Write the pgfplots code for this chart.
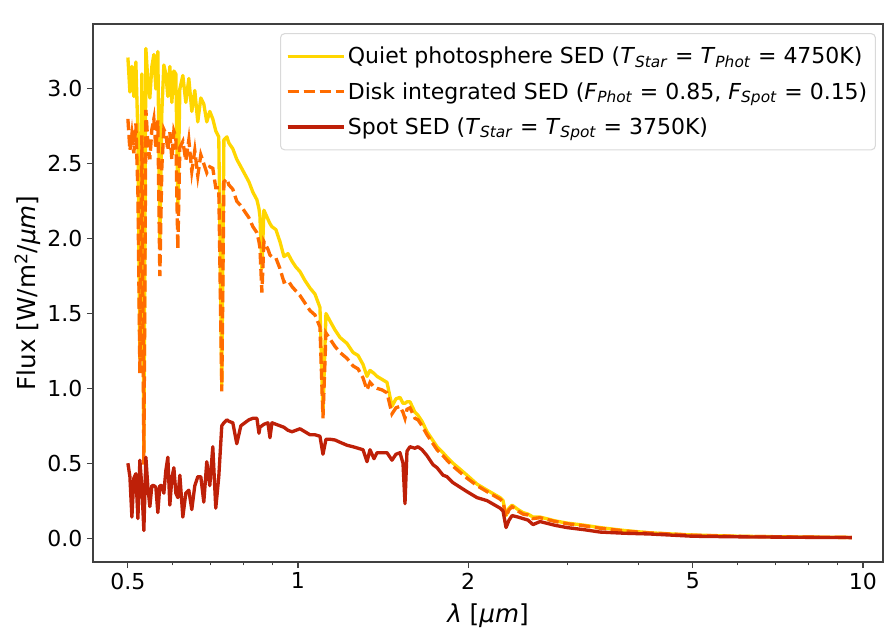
\documentclass[border=0pt]{standalone}
\usepackage{pgfplots}
\pgfplotsset{compat=1.18}
\usepackage{pgfplotstable}
\usepackage{fontspec}
\setmainfont{DejaVu Sans}
\definecolor{cquiet}{RGB}{255,214,0}
\definecolor{cdisk}{RGB}{255,108,0}
\definecolor{cspot}{RGB}{190,32,8}

\pgfplotstableread{
lam Y D S
0.5000 3.21 2.80 0.50
0.5041 2.98 2.59 0.41
0.5082 3.15 2.70 0.14
0.5123 2.95 2.57 0.40
0.5165 3.18 2.77 0.43
0.5208 2.70 2.31 0.13
0.5250 1.20 1.10 0.52
0.5293 3.10 2.69 0.34
0.5336 0.57 0.49 0.05
0.5380 3.27 2.86 0.54
0.5424 3.05 2.64 0.34
0.5468 2.94 2.53 0.21
0.5513 3.15 2.73 0.35
0.5558 3.23 2.80 0.35
0.5603 3.00 2.60 0.34
0.5649 3.25 2.79 0.17
0.5695 2.00 1.75 0.35
0.5742 2.85 2.48 0.35
0.5789 3.16 2.73 0.30
0.5836 3.10 2.70 0.45
0.5884 2.95 2.59 0.54
0.5932 3.15 2.71 0.22
0.5981 2.91 2.53 0.40
0.6030 3.12 2.72 0.47
0.6079 3.10 2.68 0.30
0.6129 2.22 1.93 0.27
0.6179 3.00 2.61 0.42
0.6255 3.09 2.65 0.14
0.6331 2.91 2.52 0.30
0.6409 3.07 2.66 0.32
0.6488 2.85 2.45 0.19
0.6567 2.99 2.59 0.35
0.6648 2.78 2.42 0.41
0.6730 2.94 2.56 0.41
0.6813 2.90 2.50 0.24
0.6896 2.78 2.44 0.51
0.6981 2.85 2.48 0.35
0.7067 2.80 2.47 0.61
0.7154 2.72 2.34 0.20
0.7242 2.68 2.34 0.41
0.7331 1.02 0.98 0.75
0.7394 2.66 2.38 0.77
0.7485 2.68 2.40 0.79
0.7544 2.64 2.36 0.78
0.7668 2.60 2.33 0.77
0.7794 2.53 2.25 0.63
0.7924 2.48 2.22 0.75
0.8054 2.43 2.18 0.77
0.8187 2.38 2.14 0.79
0.8322 2.31 2.08 0.80
0.8459 2.26 2.04 0.80
0.8530 2.20 1.98 0.70
0.8563 2.15 1.94 0.74
0.8633 1.80 1.64 0.75
0.8704 2.19 1.98 0.76
0.8848 2.13 1.93 0.77
0.8921 2.10 1.89 0.67
0.8993 2.08 1.88 0.77
0.9141 2.06 1.87 0.76
0.9292 1.98 1.80 0.75
0.9444 1.88 1.71 0.74
0.9600 1.90 1.72 0.72
0.9758 1.85 1.68 0.71
0.9918 1.81 1.65 0.72
1.0082 1.78 1.62 0.73
1.0289 1.72 1.57 0.71
1.0501 1.67 1.52 0.69
1.0717 1.63 1.49 0.69
1.0937 1.54 1.41 0.68
1.1072 0.84 0.80 0.56
1.1208 1.50 1.37 0.66
1.1393 1.45 1.33 0.66
1.1628 1.39 1.28 0.655
1.1867 1.34 1.24 0.64
1.2212 1.30 1.20 0.62
1.2514 1.24 1.15 0.61
1.2772 1.22 1.13 0.60
1.3034 1.16 1.07 0.59
1.3249 1.08 0.99 0.51
1.3412 1.12 1.04 0.59
1.3632 1.10 1.01 0.53
1.3800 1.08 1.00 0.57
1.4083 1.06 0.99 0.57
1.4373 1.04 0.97 0.57
1.4668 0.88 0.83 0.52
1.4910 0.93 0.87 0.56
1.5155 0.94 0.88 0.57
1.5341 0.90 0.84 0.50
1.5467 0.90 0.80 0.23
1.5593 0.91 0.86 0.58
1.5785 0.91 0.87 0.61
1.6110 0.84 0.80 0.60
1.6308 0.82 0.79 0.61
1.6579 0.78 0.75 0.59
1.6920 0.71 0.69 0.55
1.7339 0.65 0.63 0.49
1.7624 0.61 0.59 0.47
1.8060 0.57 0.55 0.42
1.8357 0.54 0.52 0.41
1.8810 0.50 0.48 0.37
1.9355 0.46 0.44 0.34
1.9916 0.42 0.40 0.31
2.0745 0.36 0.35 0.27
2.1608 0.32 0.31 0.25
2.2785 0.27 0.26 0.20
2.3065 0.25 0.24 0.18
2.3348 0.15 0.14 0.07
2.3635 0.20 0.19 0.12
2.3926 0.22 0.21 0.15
2.4519 0.19 0.18 0.14
2.5019 0.17 0.16 0.13
2.5535 0.16 0.154 0.12
2.6060 0.14 0.13 0.09
2.6815 0.14 0.136 0.11
2.8500 0.115 0.111 0.085
2.9930 0.10 0.096 0.07
3.2210 0.085 0.081 0.055
3.4230 0.07 0.066 0.04
3.7910 0.05 0.047 0.032
4.1980 0.035 0.034 0.027
5.0030 0.02 0.019 0.012
6.0570 0.012 0.011 0.008
7.7390 0.007 0.007 0.005
9.5610 0.004 0.004 0.003
}\sed

\begin{document}
\begin{tikzpicture}
\begin{axis}[
  scale only axis,
  width=592.5pt, height=403.5pt,
  xmode=log,
  xmin=0.4337, xmax=10.85,
  ymin=-0.16, ymax=3.434,
  xtick={0.5,1,2,5,10},
  xticklabels={0.5,1,2,5,10},
  minor xtick={0.6,0.7,0.8,0.9,3,4,6,7,8,9},
  ytick={0,0.5,1,1.5,2,2.5,3},
  yticklabels={0.0,0.5,1.0,1.5,2.0,2.5,3.0},
  xtick pos=bottom, ytick pos=left,
  tick align=outside,
  major tick length=4.5pt, minor tick length=2.6pt,
  every tick/.style={black!75, line width=0.8pt},
  axis line style={black!75, line width=0.9pt},
  tick label style={font=\fontsize{16.5}{19}\selectfont},
  /pgf/number format/assume math mode=true,
  xlabel={\textit{λ} [\textit{μm}]},
  ylabel={Flux [W/m\textsuperscript{2}/\textit{μm}]},
  label style={font=\fontsize{18.5}{22}\selectfont},
  xlabel style={at={(axis description cs:0.5,0)}, anchor=north, yshift=-28pt},
  ylabel style={yshift=-2pt},
  legend cell align=left,
  legend style={at={(0.991,0.983)}, anchor=north east,
    draw=black!15, rounded corners=3pt, line width=0.8pt,
    font=\fontsize{16.5}{19}\selectfont,
    row sep=8.5pt, inner xsep=4pt, inner ysep=8pt},
  legend image code/.code={\draw[#1] (0pt,0pt) -- (35pt,0pt); \path (0pt,0pt) -- (42pt,0pt);},
]
\coordinate (O) at (rel axis cs:0,0);
\addplot[cquiet, line width=2.5pt, line join=round] table[x=lam,y=Y] {\sed};
\addlegendentry{Quiet photosphere SED (\textit{T}\textsubscript{\textit{Star}} = \textit{T}\textsubscript{\textit{Phot}} = 4750K)}
\addplot[cdisk, line width=2.5pt, dash pattern=on 8.5pt off 3.5pt] table[x=lam,y=D] {\sed};
\addlegendentry{Disk integrated SED (\textit{F}\textsubscript{\textit{Phot}} = 0.85, \textit{F}\textsubscript{\textit{Spot}} = 0.15)}
\addplot[cspot, line width=2.5pt, line join=round] table[x=lam,y=S] {\sed};
\addlegendentry{Spot SED (\textit{T}\textsubscript{\textit{Star}} = \textit{T}\textsubscript{\textit{Spot}} = 3750K)}
\node[anchor=south west, inner sep=0pt, font=\fontsize{10.5}{12}\selectfont] at (rel axis cs:0,1) [yshift=4pt] {1e7};
\end{axis}
\path (O) ++(-69.75pt,-51.75pt) rectangle ++(663.75pt,473.25pt);
\end{tikzpicture}
\end{document}
